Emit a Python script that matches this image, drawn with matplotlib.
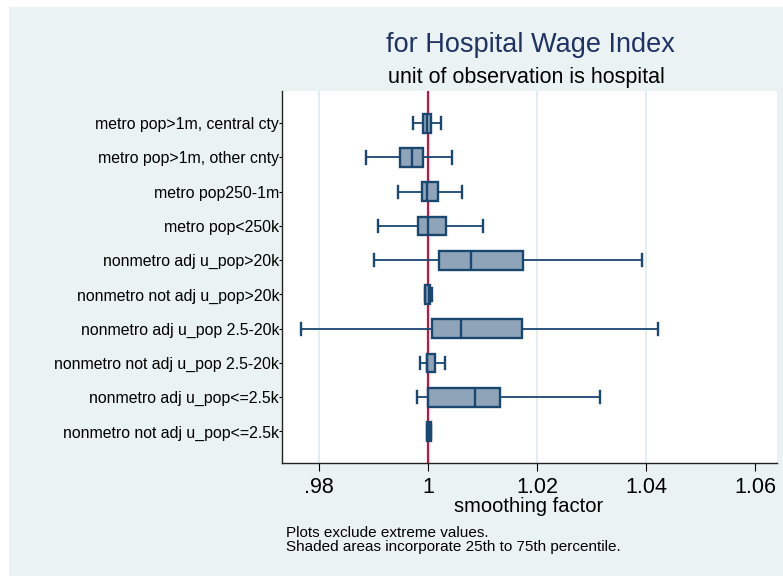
import matplotlib.pyplot as plt
from matplotlib.patches import Rectangle

plt.rcParams["font.family"] = ["Liberation Sans", "DejaVu Sans"]

categories = ["metro pop>1m, central cty", "metro pop>1m, other cnty", "metro pop250-1m",
              "metro pop<250k", "nonmetro adj u_pop>20k", "nonmetro not adj u_pop>20k",
              "nonmetro adj u_pop 2.5-20k", "nonmetro not adj u_pop 2.5-20k",
              "nonmetro adj u_pop<=2.5k", "nonmetro not adj u_pop<=2.5k"]
whisk_lo = [0.99714, 0.98850, 0.99443, 0.99082, 0.98997, 0.99940, 0.97667, 0.99848, 0.99787, 0.99972]
q1 = [0.99897, 0.99475, 0.99879, 0.99805, 1.00197, 0.99945, 1.00062, 0.99971, 0.99994, 0.99975]
median = [0.99982, 0.99701, 0.99976, 0.99989, 1.00784, 1.00010, 1.00595, 0.99980, 1.00858, 1.00010]
q3 = [1.00055, 0.99908, 1.00178, 1.00320, 1.01734, 1.00040, 1.01721, 1.00129, 1.01317, 1.00045]
whisk_hi = [1.00233, 1.00435, 1.00613, 1.01005, 1.03925, 1.00070, 1.04225, 1.00312, 1.03154, 1.00050]
xticks = [0.98, 1.0, 1.02, 1.04, 1.06]
xticklabels = [".98", "1", "1.02", "1.04", "1.06"]

bg = "#EAF2F3"
navy = "#1A476F"

fig = plt.figure(figsize=(7.83, 5.76), dpi=100, facecolor="white")
fig.patches.append(Rectangle((9 / 783, 0), 1, 1 - 7 / 576, transform=fig.transFigure,
                             facecolor=bg, edgecolor="none", zorder=-10))

ax = fig.add_axes([282 / 783, 1 - 463 / 576, 495 / 783, 372 / 576])
ax.set_facecolor("white")

stats = []
for i in range(len(categories)):
    stats.append({"whislo": whisk_lo[i], "q1": q1[i], "med": median[i], "q3": q3[i],
                  "whishi": whisk_hi[i], "fliers": []})
pos = list(range(1, len(categories) + 1))

ax.axvline(1.0, color="#C8143C", lw=1.6, zorder=1)
for x in [0.98, 1.02, 1.04]:
    ax.axvline(x, color="#E3ECEE", lw=1.5, zorder=0)

ax.bxp(stats, positions=pos, orientation="horizontal", widths=0.55, capwidths=0.36,
       patch_artist=True, showfliers=False,
       boxprops=dict(facecolor="#8FA4B9", edgecolor=navy, linewidth=1.7),
       medianprops=dict(color=navy, linewidth=1.7),
       whiskerprops=dict(color=navy, linewidth=1.3),
       capprops=dict(color=navy, linewidth=1.7), zorder=3)

ax.set_xlim(0.97315, 1.06404)
ax.set_ylim(10.92, 0.06)
ax.set_yticks(pos)
ax.set_yticklabels(categories, fontsize=11.4)
ax.set_xticks(xticks)
ax.set_xticklabels(xticklabels, fontsize=15.5)
ax.tick_params(axis="y", length=2, width=0.8, pad=0)
ax.tick_params(axis="x", length=6, width=0.8, pad=4)
for s in ["top", "right"]:
    ax.spines[s].set_visible(False)
for s in ["left", "bottom"]:
    ax.spines[s].set_color("#222222")
    ax.spines[s].set_linewidth(1.0)

fig.text(530 / 783, 1 - 45 / 576, "for Hospital Wage Index", ha="center", va="center",
         fontsize=19.5, color="#1F3363")
fig.text(526 / 783, 1 - 77 / 576, "unit of observation is hospital", ha="center", va="center",
         fontsize=15.5, color="black")
fig.text(529 / 783, 1 - 507 / 576, "smoothing factor", ha="center", va="center",
         fontsize=14.5, color="black")
fig.text(286 / 783, 1 - 533 / 576, "Plots exclude extreme values.", ha="left", va="center",
         fontsize=11)
fig.text(286 / 783, 1 - 547 / 576, "Shaded areas incorporate 25th to 75th percentile.",
         ha="left", va="center", fontsize=11)

fig.savefig("out.png", dpi=100, facecolor=fig.get_facecolor())
